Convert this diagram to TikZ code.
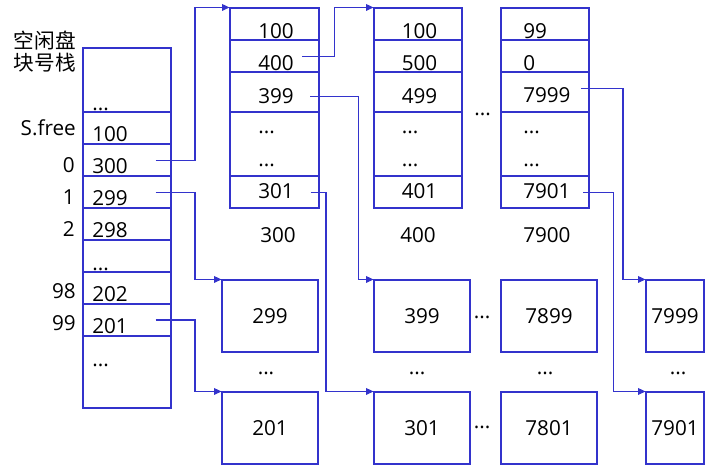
\documentclass[tikz,border=0pt]{standalone}
\usepackage{fontspec}
\setmainfont{Open Sans}
\newfontfamily\cjk{Noto Sans CJK SC}
\usetikzlibrary{fit,arrows.meta}
\definecolor{lineblue}{RGB}{51,51,204}
\begin{document}
\begin{tikzpicture}[x=0.75pt,y=-0.75pt,
  cell/.style={draw=lineblue, line width=0.8pt, inner sep=0pt},
  txt/.style={inner sep=0pt, font=\fontsize{15.5}{18}\selectfont, text=black},
  lw/.style={txt, anchor=base west},
  le/.style={txt, anchor=base east},
  lc/.style={txt, anchor=base},
  conn/.style={draw=lineblue, line width=0.8pt, -{Triangle[length=5.5pt,width=5pt]}}]
\useasboundingbox (0,0) rectangle (710,465);

% ---- left labels
\node[le, font=\cjk\fontsize{15.5}{18}\selectfont] (h1) at (76,48) {空闲盘};
\node[le, font=\cjk\fontsize{15.5}{18}\selectfont] (h2) at (76,70) {块号栈};
\node[le] (lsf) at (76,135) {S.free};
\node[le] (l0) at (75,172.7) {0};
\node[le] (l1) at (75,204.7) {1};
\node[le] (l2) at (75,236.7) {2};
\node[le] (l98) at (76,298) {98};
\node[le] (l99) at (76,330) {99};

% ---- free block stack
\node[cell, fit={(83,48) (171,112)}] (s0) {};
\node[cell, fit={(83,112) (171,144)}] (s1) {};
\node[cell, fit={(83,144) (171,176)}] (s2) {};
\node[cell, fit={(83,176) (171,208)}] (s3) {};
\node[cell, fit={(83,208) (171,240)}] (s4) {};
\node[cell, fit={(83,240) (171,272)}] (s5) {};
\node[cell, fit={(83,272) (171,304)}] (s6) {};
\node[cell, fit={(83,304) (171,336)}] (s7) {};
\node[cell, fit={(83,336) (171,408)}] (s8) {};
\node[lw] (st0) at (92,110) {...};
\node[lw] (st1) at (92,141.7) {100};
\node[lw] (st2) at (92,173) {300};
\node[lw] (st3) at (92,205) {299};
\node[lw] (st4) at (92,237) {298};
\node[lw] (st5) at (92,270) {...};
\node[lw] (st6) at (92,301) {202};
\node[lw] (st7) at (92,333) {201};
\node[lw] (st8) at (92,366) {...};

% ---- block 300
\node[cell, fit={(230,8) (319,40)}] (a1) {};
\node[cell, fit={(230,40) (319,72)}] (a2) {};
\node[cell, fit={(230,72) (319,112)}] (a3) {};
\node[cell, fit={(230,112) (319,176)}] (a4) {};
\node[cell, fit={(230,176) (319,208)}] (a5) {};
\node[lw] (at1) at (258,38) {100};
\node[lw] (at2) at (258,70) {400};
\node[lw] (at3) at (258,103) {399};
\node[lw] (at4) at (258,133) {...};
\node[lw] (at5) at (258,166) {...};
\node[lw] (at6) at (258,198) {301};
\node[lw] (alab) at (260,242) {300};

% ---- block 400
\node[cell, fit={(374,8) (462,40)}] (b1) {};
\node[cell, fit={(374,40) (462,72)}] (b2) {};
\node[cell, fit={(374,72) (462,112)}] (b3) {};
\node[cell, fit={(374,112) (462,176)}] (b4) {};
\node[cell, fit={(374,176) (462,208)}] (b5) {};
\node[lw] (bt1) at (401.5,38) {100};
\node[lw] (bt2) at (401.5,70) {500};
\node[lw] (bt3) at (401.5,103) {499};
\node[lw] (bt4) at (401.5,133) {...};
\node[lw] (bt5) at (401.5,166) {...};
\node[lw] (bt6) at (401.5,198) {401};
\node[lw] (blab) at (400,242) {400};

\node[lw] (gap1) at (474,115) {...};

% ---- block 7900
\node[cell, fit={(501,8) (589,40)}] (c1) {};
\node[cell, fit={(501,40) (589,72)}] (c2) {};
\node[cell, fit={(501,72) (589,112)}] (c3) {};
\node[cell, fit={(501,112) (589,176)}] (c4) {};
\node[cell, fit={(501,176) (589,208)}] (c5) {};
\node[lw] (ct1) at (523,38) {99};
\node[lw] (ct2) at (523,70) {0};
\node[lw] (ct3) at (523,102) {7999};
\node[lw] (ct4) at (523,133) {...};
\node[lw] (ct5) at (523,166) {...};
\node[lw] (ct6) at (523,198) {7901};
\node[lw] (clab) at (523,242) {7900};

% ---- lower blocks
\node[cell, fit={(222,280) (318,352)}] (d299) {};
\node[cell, fit={(222,392) (318,464)}] (d201) {};
\node[cell, fit={(374,280) (470,352)}] (d399) {};
\node[cell, fit={(374,392) (470,464)}] (d301) {};
\node[cell, fit={(501,280) (597,352)}] (d7899) {};
\node[cell, fit={(501,392) (597,464)}] (d7801) {};
\node[cell, fit={(646,280) (704,352)}] (d7999) {};
\node[cell, fit={(646,392) (704,464)}] (d7901) {};
\node[lc] (e299) at (270,323.5) {299};
\node[lc] (e201) at (270,435.5) {201};
\node[lc] (e399) at (422,323.5) {399};
\node[lc] (e301) at (422,435.5) {301};
\node[lc] (e7899) at (549,323.5) {7899};
\node[lc] (e7801) at (549,435.5) {7801};
\node[lc] (e7999) at (675,323.5) {7999};
\node[lc] (e7901) at (675,435.5) {7901};
\node[lc] (f1) at (266,374) {...};
\node[lc] (f2) at (417,374) {...};
\node[lc] (f3) at (545,374) {...};
\node[lc] (f4) at (678,374) {...};
\node[lc] (f5) at (482,318.5) {...};
\node[lc] (f6) at (482,428.5) {...};

% ---- connector start points
\coordinate (p300) at (155.7,160.3);
\coordinate (p299) at (155.7,192.3);
\coordinate (p201) at (155.7,320);
\coordinate (p400) at (302.3,56.7);
\coordinate (p399) at (310,96.7);
\coordinate (p301) at (310.7,192.3);
\coordinate (p7999) at (581,88.3);
\coordinate (p7901) at (583.3,192.3);

\draw[conn] (p300) -- ++(39.3,0) |- (a1.north west);
\draw[conn] (p299) -- ++(39.3,0) |- (d299.north west);
\draw[conn] (p201) -- ++(39.3,0) |- (d201.north west);
\draw[conn] (p400) -- ++(32,0) |- (b1.north west);
\draw[conn] (p399) -- ++(48.3,0) |- (d399.north west);
\draw[conn] (p301) -- ++(15.3,0) |- (d301.north west);
\draw[conn] (p7999) -- ++(42,0) |- (d7999.north west);
\draw[conn] (p7901) -- ++(30,0) |- (d7901.north west);
\end{tikzpicture}
\end{document}
